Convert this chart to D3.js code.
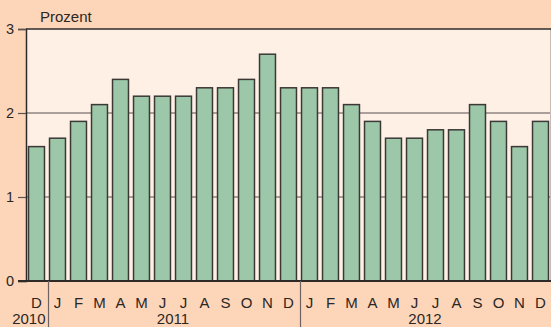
<!DOCTYPE html>
<html>
<head>
<meta charset="utf-8">
<script src="https://cdn.jsdelivr.net/npm/d3@7"></script>
<style>
  body { margin: 0; background: #fdd5b9; }
  svg { display: block; font-family: "Liberation Sans", Arial, sans-serif; }
</style>
</head>
<body>
<svg id="chart" width="551" height="327"></svg>
<script>
// data
var months = ["D", "J", "F", "M", "A", "M", "J", "J", "A", "S", "O", "N", "D",
              "J", "F", "M", "A", "M", "J", "J", "A", "S", "O", "N", "D"]
var values = [1.6, 1.7, 1.9, 2.1, 2.4, 2.2, 2.2, 2.2, 2.3, 2.3, 2.4, 2.7, 2.3,
              2.3, 2.3, 2.1, 1.9, 1.7, 1.7, 1.8, 1.8, 2.1, 1.9, 1.6, 1.9]
var years = ["2010", "2011", "2012"]
var yearStart = [0, 1, 13]   // index of first month of each year
var yTicks = [0, 1, 2, 3]

var svg = d3.select("#chart")
var margin = { top: 29, right: 0, bottom: 46, left: 26 }
var W = 551, H = 327

var idx = d3.range(values.length)

var x = d3.scaleBand()
    .domain(idx)
    .range([margin.left, W])
    .paddingInner(0.24)
    .paddingOuter(0.12)

var y = d3.scaleLinear()
    .domain([0, 3])
    .range([H - margin.bottom, margin.top])

// background
svg.append("rect")
    .attr("width", W).attr("height", H)
    .attr("fill", "#fdd5b9")

svg.append("rect")
    .attr("x", margin.left).attr("y", y(3))
    .attr("width", W - margin.left).attr("height", y(0) - y(3))
    .attr("fill", "#fff0e6")

// gridlines
svg.selectAll(".grid")
    .data([1, 2])
    .enter()
    .append("line")
    .attr("x1", margin.left).attr("x2", W)
    .attr("y1", function (d) { return y(d) })
    .attr("y2", function (d) { return y(d) })
    .attr("stroke", "#8f8482")
    .attr("stroke-width", 1.6)

// right border
svg.append("line")
    .attr("x1", W - 0.5).attr("x2", W - 0.5)
    .attr("y1", y(3)).attr("y2", y(0))
    .attr("stroke", "#c8bcb8")

// bars
svg.selectAll(".bar")
    .data(values)
    .enter()
    .append("rect")
    .attr("class", "bar")
    .attr("x", function (d, i) { return x(i) })
    .attr("y", function (d) { return y(d) })
    .attr("width", x.bandwidth())
    .attr("height", function (d) { return y(0) - y(d) })
    .attr("fill", "#9cc8a9")
    .attr("stroke", "#3b3835")
    .attr("stroke-width", 1.5)

// top line
svg.append("line")
    .attr("x1", margin.left).attr("x2", W)
    .attr("y1", y(3)).attr("y2", y(3))
    .attr("stroke", "#2e2a28")
    .attr("stroke-width", 1.5)

// y axis
var yAxis = d3.axisLeft(y)
    .tickValues(yTicks)
    .tickSize(8)
    .tickPadding(4)
    .tickFormat(d3.format("d"))

var gy = svg.append("g")
    .attr("transform", "translate(" + margin.left + ",0)")
    .call(yAxis)
gy.select(".domain").attr("stroke", "#2e2a28").attr("stroke-width", 1.5)
gy.selectAll(".tick line").attr("stroke", "#5a5350").attr("stroke-width", 1.2)
gy.selectAll(".tick text")
    .attr("fill", "#2b2724")
    .style("font-family", "'Liberation Sans', Arial, sans-serif")
    .style("font-size", "14.5px")

// x axis baseline
svg.append("line")
    .attr("x1", margin.left - 8).attr("x2", W)
    .attr("y1", y(0)).attr("y2", y(0))
    .attr("stroke", "#2e2a28")
    .attr("stroke-width", 2)

// month labels
svg.selectAll(".month")
    .data(months)
    .enter()
    .append("text")
    .attr("x", function (d, i) { return x(i) + x.bandwidth() / 2 })
    .attr("y", 307.5)
    .attr("text-anchor", "middle")
    .attr("fill", "#2b2724")
    .style("font-size", "15px")
    .text(function (d) { return d })

// year separators
var step = x.step()
function sepX(i) { return x(i) - (step - x.bandwidth()) / 2 + 1.5 }

svg.selectAll(".sep")
    .data(yearStart.slice(1))
    .enter()
    .append("line")
    .attr("x1", function (d) { return sepX(d) })
    .attr("x2", function (d) { return sepX(d) })
    .attr("y1", y(0)).attr("y2", H)
    .attr("stroke", "#6e6360")
    .attr("stroke-width", 1.2)

// year labels (first one sits left of its separator, others centred on their months)
svg.selectAll(".year")
    .data(years)
    .enter()
    .append("text")
    .attr("x", function (d, i) {
        if (i === 0) return sepX(yearStart[1]) - 3
        var first = yearStart[i]
        var last = (i + 1 < yearStart.length ? yearStart[i + 1] : values.length) - 1
        return (x(first) + x(last) + x.bandwidth()) / 2
    })
    .attr("y", 324)
    .attr("text-anchor", function (d, i) { return i === 0 ? "end" : "middle" })
    .attr("fill", "#2b2724")
    .style("font-size", "15px")
    .text(function (d) { return d })

// unit label
svg.append("text")
    .attr("x", 40)
    .attr("y", 22)
    .attr("fill", "#2b2724")
    .style("font-size", "15px")
    .text("Prozent")
</script>
</body>
</html>
